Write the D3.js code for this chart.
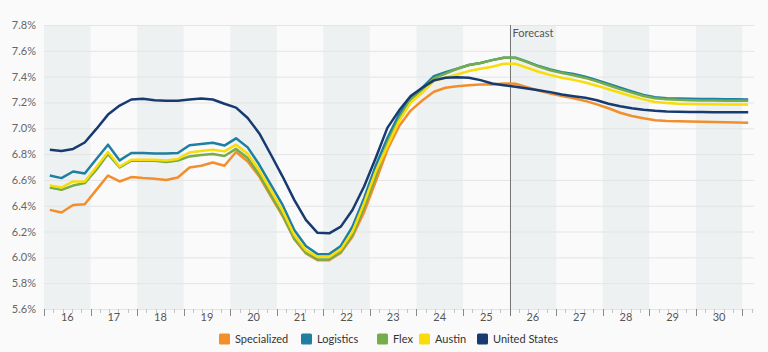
<!DOCTYPE html>
<html>
<head>
<meta charset="utf-8">
<script src="https://cdn.jsdelivr.net/npm/d3@7"></script>
<style>
  html, body { margin: 0; padding: 0; background: #fafafa; }
  svg { display: block; font-family: Lato, "Noto Sans", sans-serif; }
</style>
</head>
<body>
<svg id="chart" width="768" height="352"></svg>
<script>
// Quarterly periods, 2016 Q1 through 2031 Q1
const quarters = [
  "16Q1","16Q2","16Q3","16Q4","17Q1","17Q2","17Q3","17Q4",
  "18Q1","18Q2","18Q3","18Q4","19Q1","19Q2","19Q3","19Q4",
  "20Q1","20Q2","20Q3","20Q4","21Q1","21Q2","21Q3","21Q4",
  "22Q1","22Q2","22Q3","22Q4","23Q1","23Q2","23Q3","23Q4",
  "24Q1","24Q2","24Q3","24Q4","25Q1","25Q2","25Q3","25Q4",
  "26Q1","26Q2","26Q3","26Q4","27Q1","27Q2","27Q3","27Q4",
  "28Q1","28Q2","28Q3","28Q4","29Q1","29Q2","29Q3","29Q4",
  "30Q1","30Q2","30Q3","30Q4","31Q1"
];
const yearLabels = ["16","17","18","19","20","21","22","23","24","25","26","27","28","29","30"];
const forecastStart = "26Q1";
const yTicks = [5.6, 5.8, 6.0, 6.2, 6.4, 6.6, 6.8, 7.0, 7.2, 7.4, 7.6, 7.8];

// Rate series (%)
const specialized = [
  6.368, 6.347, 6.406, 6.412, 6.523, 6.634, 6.588, 6.622,
  6.614, 6.609, 6.600, 6.619, 6.696, 6.710, 6.735, 6.710,
  6.816, 6.743, 6.626, 6.471, 6.320, 6.140, 6.030, 5.978,
  5.978, 6.035, 6.160, 6.350, 6.588, 6.834, 7.015, 7.137,
  7.215, 7.283, 7.314, 7.326, 7.334, 7.339, 7.339, 7.347,
  7.345, 7.318, 7.293, 7.270, 7.249, 7.232, 7.212, 7.185,
  7.155, 7.120, 7.095, 7.077, 7.063, 7.057, 7.054, 7.052,
  7.050, 7.048, 7.046, 7.044, 7.042
];
const logistics = [
  6.634, 6.614, 6.665, 6.650, 6.762, 6.873, 6.751, 6.808,
  6.808, 6.805, 6.805, 6.808, 6.868, 6.878, 6.888, 6.866,
  6.922, 6.852, 6.717, 6.562, 6.406, 6.212, 6.088, 6.025,
  6.025, 6.088, 6.238, 6.458, 6.710, 6.925, 7.106, 7.231,
  7.314, 7.404, 7.435, 7.461, 7.490, 7.505, 7.528, 7.547,
  7.547, 7.516, 7.482, 7.456, 7.435, 7.420, 7.400, 7.373,
  7.343, 7.314, 7.285, 7.258, 7.240, 7.233, 7.230, 7.228,
  7.227, 7.226, 7.225, 7.224, 7.223
];
const flex = [
  6.541, 6.523, 6.556, 6.575, 6.679, 6.800, 6.696, 6.749,
  6.749, 6.749, 6.738, 6.750, 6.782, 6.793, 6.800, 6.785,
  6.840, 6.770, 6.640, 6.484, 6.329, 6.147, 6.036, 5.984,
  5.984, 6.043, 6.173, 6.388, 6.630, 6.886, 7.073, 7.223,
  7.300, 7.386, 7.423, 7.461, 7.490, 7.505, 7.528, 7.547,
  7.545, 7.512, 7.478, 7.450, 7.428, 7.410, 7.390, 7.363,
  7.333, 7.303, 7.276, 7.250, 7.232, 7.224, 7.220, 7.218,
  7.216, 7.215, 7.214, 7.213, 7.213
];
const austin = [
  6.556, 6.541, 6.588, 6.588, 6.700, 6.816, 6.704, 6.756,
  6.756, 6.756, 6.751, 6.762, 6.813, 6.824, 6.834, 6.821,
  6.873, 6.803, 6.673, 6.518, 6.362, 6.173, 6.056, 6.004,
  6.004, 6.062, 6.199, 6.420, 6.665, 6.860, 7.054, 7.197,
  7.275, 7.366, 7.391, 7.417, 7.443, 7.461, 7.477, 7.500,
  7.500, 7.469, 7.438, 7.412, 7.391, 7.375, 7.355, 7.330,
  7.302, 7.275, 7.248, 7.224, 7.204, 7.195, 7.190, 7.188,
  7.187, 7.186, 7.185, 7.185, 7.184
];
const unitedStates = [
  6.834, 6.824, 6.840, 6.890, 6.995, 7.106, 7.176, 7.223,
  7.228, 7.217, 7.213, 7.213, 7.223, 7.231, 7.223, 7.190,
  7.160, 7.080, 6.960, 6.795, 6.626, 6.445, 6.290, 6.190,
  6.186, 6.238, 6.367, 6.549, 6.770, 7.003, 7.137, 7.249,
  7.314, 7.371, 7.391, 7.396, 7.391, 7.373, 7.347, 7.334,
  7.321, 7.308, 7.295, 7.280, 7.262, 7.248, 7.236, 7.217,
  7.190, 7.170, 7.155, 7.143, 7.135, 7.130, 7.128, 7.126,
  7.126, 7.125, 7.125, 7.124, 7.124
];

const seriesNames = ["Specialized", "Logistics", "Flex", "Austin", "United States"];
const seriesValues = [specialized, logistics, flex, austin, unitedStates];
const seriesColors = ["#f28e2b", "#1f7fa1", "#74ad4a", "#f9dc0a", "#173a70"];

const svg = d3.select("#chart");
const margin = { left: 44, right: 14, top: 25, bottom: 43 };
const W = 768, H = 352;
const plotBottom = H - margin.bottom;

// Quarter index scale (each quarter gets one band)
const x = d3.scaleLinear()
  .domain([-0.5, quarters.length - 0.5])
  .range([margin.left, W - margin.right]);
const y = d3.scaleLinear()
  .domain([5.6, 7.8])
  .range([plotBottom, margin.top]);

const qIndex = q => quarters.indexOf(q);
const yearStart = i => x(i * 4 - 0.5);

// Alternating year bands
svg.append("g").selectAll("rect")
  .data(yearLabels.filter((d, i) => i % 2 === 0))
  .join("rect")
  .attr("x", d => yearStart(yearLabels.indexOf(d)))
  .attr("y", margin.top)
  .attr("width", d => yearStart(yearLabels.indexOf(d) + 1) - yearStart(yearLabels.indexOf(d)))
  .attr("height", plotBottom - margin.top)
  .attr("fill", "#eef1f2");

// Horizontal grid + y labels
const yAxis = d3.axisLeft(y)
  .tickValues(yTicks)
  .tickSize(-(W - margin.right - margin.left))
  .tickPadding(8)
  .tickFormat(d => d.toFixed(1) + "%");
const gy = svg.append("g")
  .attr("transform", `translate(${margin.left},0)`)
  .call(yAxis);
gy.select(".domain").remove();
gy.selectAll(".tick line").attr("stroke", "#e4e4e4");
gy.selectAll(".tick text")
  .attr("fill", "#666")
  .attr("font-size", 11)
  .attr("font-family", "Lato, sans-serif");

// X axis: major ticks at year boundaries, minor ticks in between
const majorIdx = d3.range(yearLabels.length + 1);
svg.append("g").selectAll("line")
  .data(majorIdx)
  .join("line")
  .attr("x1", d => Math.round(yearStart(d)) + 0.5)
  .attr("x2", d => Math.round(yearStart(d)) + 0.5)
  .attr("y1", plotBottom)
  .attr("y2", plotBottom + 7)
  .attr("stroke", "#8a8a8a");

const minor = [];
majorIdx.forEach(i => {
  const x0 = yearStart(i), x1 = yearStart(i + 1);
  for (let k = 1; k <= 4; k++) {
    const px = x0 + (x1 - x0) * k / 5;
    if (px <= W - margin.right + 1) minor.push(px);
  }
});
svg.append("g").selectAll("line")
  .data(minor)
  .join("line")
  .attr("x1", d => Math.round(d) + 0.5)
  .attr("x2", d => Math.round(d) + 0.5)
  .attr("y1", plotBottom)
  .attr("y2", plotBottom + 4)
  .attr("stroke", "#c4c4c4");

svg.append("g").selectAll("text")
  .data(yearLabels)
  .join("text")
  .attr("x", (d, i) => (yearStart(i) + yearStart(i + 1)) / 2)
  .attr("y", plotBottom + 12)
  .attr("text-anchor", "middle")
  .attr("font-size", 11)
  .attr("fill", "#555")
  .text(d => d);

// Forecast divider
const fx = Math.round(yearStart(qIndex(forecastStart) / 4)) + 0.5;
svg.append("line")
  .attr("x1", fx).attr("x2", fx)
  .attr("y1", margin.top).attr("y2", plotBottom + 7)
  .attr("stroke", "#777")
  .attr("stroke-width", 1);
svg.append("text")
  .attr("x", fx + 2)
  .attr("y", margin.top + 12)
  .attr("font-size", 11)
  .attr("fill", "#555")
  .text("Forecast");

// Series lines
const line = d3.line()
  .x((d, i) => x(i))
  .y(d => y(d));
svg.append("g").selectAll("path")
  .data(seriesValues)
  .join("path")
  .attr("d", d => line(d))
  .attr("fill", "none")
  .attr("stroke", (d, i) => seriesColors[i])
  .attr("stroke-width", 2.5)
  .attr("stroke-linejoin", "round")
  .attr("stroke-linecap", "butt");

// Legend
const legendY = 339;
const legendX = [219, 301, 377, 419, 477];
const lg = svg.append("g").selectAll("g")
  .data(seriesNames)
  .join("g")
  .attr("transform", (d, i) => `translate(${legendX[i]},${legendY})`);
lg.append("rect")
  .attr("x", 0).attr("y", -5.5)
  .attr("width", 11).attr("height", 11)
  .attr("rx", 1.5)
  .attr("fill", (d, i) => seriesColors[i]);
lg.append("text")
  .attr("x", 16)
  .attr("y", 0)
  .attr("dy", "0.35em")
  .attr("font-size", 11)
  .attr("fill", "#333")
  .text(d => d);
</script>
</body>
</html>
